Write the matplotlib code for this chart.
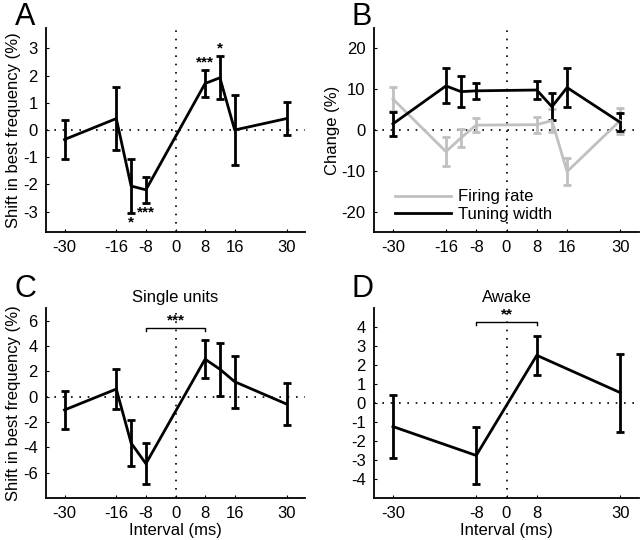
import numpy as np
import matplotlib
matplotlib.use("Agg")
import matplotlib.pyplot as plt
from matplotlib.lines import Line2D

plt.rcParams['font.family'] = ['Liberation Sans', 'DejaVu Sans']
plt.rcParams['axes.unicode_minus'] = False

# panel A: shift in best frequency
a_x = [-30, -16, -12, -8, 8, 12, 16, 30]
a_y = [-0.35, 0.42, -2.06, -2.2, 1.71, 1.92, 0.0, 0.42]
a_err = [0.73, 1.17, 0.98, 0.48, 0.5, 0.79, 1.3, 0.62]
a_stars = {-12: ("*", "below"), -8: ("***", "below"), 8: ("***", "above"), 12: ("*", "above")}

# panel B: firing rate / tuning width
b_x = [-30, -16, -12, -8, 8, 12, 16, 30]
b_fr = [7.6, -5.3, -1.9, 1.2, 1.3, 2.3, -10.2, 2.3]
b_fr_err = [2.9, 3.6, 2.2, 1.7, 2.0, 2.9, 3.3, 3.2]
b_tw = [1.5, 10.8, 9.4, 9.6, 9.8, 5.7, 10.4, 1.9]
b_tw_err = [2.9, 4.3, 3.8, 1.9, 2.3, 3.3, 4.7, 2.2]

# panel C: single units
c_x = [-30, -16, -12, -8, 8, 12, 16, 30]
c_y = [-1.05, 0.6, -3.66, -5.29, 2.96, 2.17, 1.18, -0.58]
c_err = [1.5, 1.6, 1.85, 1.6, 1.5, 2.1, 2.07, 1.65]

# panel D: awake
d_x = [-30, -8, 8, 30]
d_y = [-1.24, -2.76, 2.51, 0.55]
d_err = [1.67, 1.5, 1.03, 2.05]

tick_a = [-30, -16, -8, 0, 8, 16, 30]
tick_d = [-30, -8, 0, 8, 30]

W, H = 640, 540
fig = plt.figure(figsize=(6.4, 5.4), dpi=100)


def box(l, t, r, b):
    return [l / W, (H - b) / H, (r - l) / W, (b - t) / H]


def style(ax, xticks, ylim, yticks):
    ax.set_xlim(-35, 35)
    ax.set_ylim(*ylim)
    ax.set_xticks(xticks)
    ax.set_yticks(yticks)
    for s in ['top', 'right']:
        ax.spines[s].set_visible(False)
    for s in ['left', 'bottom']:
        ax.spines[s].set_linewidth(1.3)
    ax.tick_params(direction='in', length=2, width=0.8, labelsize=12, pad=6)
    ax.axhline(0, color='k', ls=(0, (1, 4)), lw=1.2, zorder=0)
    ax.axvline(0, color='k', ls=(0, (1, 4)), lw=1.2, zorder=0)


def errline(ax, x, y, e, color='k'):
    ax.errorbar(x, y, yerr=e, color=color, lw=2, elinewidth=2, capsize=3,
                capthick=2)


axA = fig.add_axes(box(46, 28, 305, 232))
style(axA, tick_a, (-3.75, 3.75), [-3, -2, -1, 0, 1, 2, 3])
errline(axA, a_x, a_y, a_err)
for xi, yi, ei in zip(a_x, a_y, a_err):
    if xi in a_stars:
        s, pos = a_stars[xi]
        if pos == "below":
            axA.text(xi, yi - ei - 0.1, s, ha='center', va='top', fontsize=11, fontweight='bold')
        else:
            axA.text(xi, yi + ei + 0.02, s, ha='center', va='bottom', fontsize=11, fontweight='bold')
axA.set_ylabel("Shift in best frequency (%)", fontsize=12, labelpad=1)

axB = fig.add_axes(box(374, 28, 639, 232))
style(axB, tick_a, (-25, 25), [-20, -10, 0, 10, 20])
errline(axB, b_x, b_fr, b_fr_err, color='#c0c0c0')
errline(axB, b_x, b_tw, b_tw_err, color='k')
axB.set_ylabel("Change (%)", fontsize=12, labelpad=1)
handles = [Line2D([], [], color='#c0c0c0', lw=2), Line2D([], [], color='k', lw=2)]
axB.legend(handles, ['Firing rate', 'Tuning width'], loc='lower left', frameon=False,
           fontsize=12, handlelength=3.4, borderaxespad=0.2, handletextpad=0.4,
           labelspacing=0.15, bbox_to_anchor=(0.04, 0.0))

axC = fig.add_axes(box(46, 308, 305, 498))
style(axC, tick_a, (-8, 7), [-6, -4, -2, 0, 2, 4, 6])
errline(axC, c_x, c_y, c_err)
axC.plot([-8, -8, 8, 8], [5.2, 5.45, 5.45, 5.2], color='k', lw=1)
axC.text(0, 5.5, "***", ha='center', va='bottom', fontsize=11, fontweight='bold')
axC.set_title("Single units", fontsize=12, pad=4)
axC.set_ylabel("Shift in best frequency (%)", fontsize=12, labelpad=1)
axC.set_xlabel("Interval (ms)", fontsize=12, labelpad=1)

axD = fig.add_axes(box(374, 308, 639, 498))
style(axD, tick_d, (-5, 5), [-4, -3, -2, -1, 0, 1, 2, 3, 4])
errline(axD, d_x, d_y, d_err)
axD.plot([-8, -8, 8, 8], [4.1, 4.27, 4.27, 4.1], color='k', lw=1)
axD.text(0, 4.3, "**", ha='center', va='bottom', fontsize=11, fontweight='bold')
axD.set_title("Awake", fontsize=12, pad=4)
axD.set_xlabel("Interval (ms)", fontsize=12, labelpad=1)

for lab, x, y in [("A", 15, 25), ("B", 351, 25), ("C", 15, 297), ("D", 351, 297)]:
    fig.text(x / W, 1 - y / H, lab, fontsize=22, ha='left', va='baseline')

fig.savefig("out.png", dpi=100)
